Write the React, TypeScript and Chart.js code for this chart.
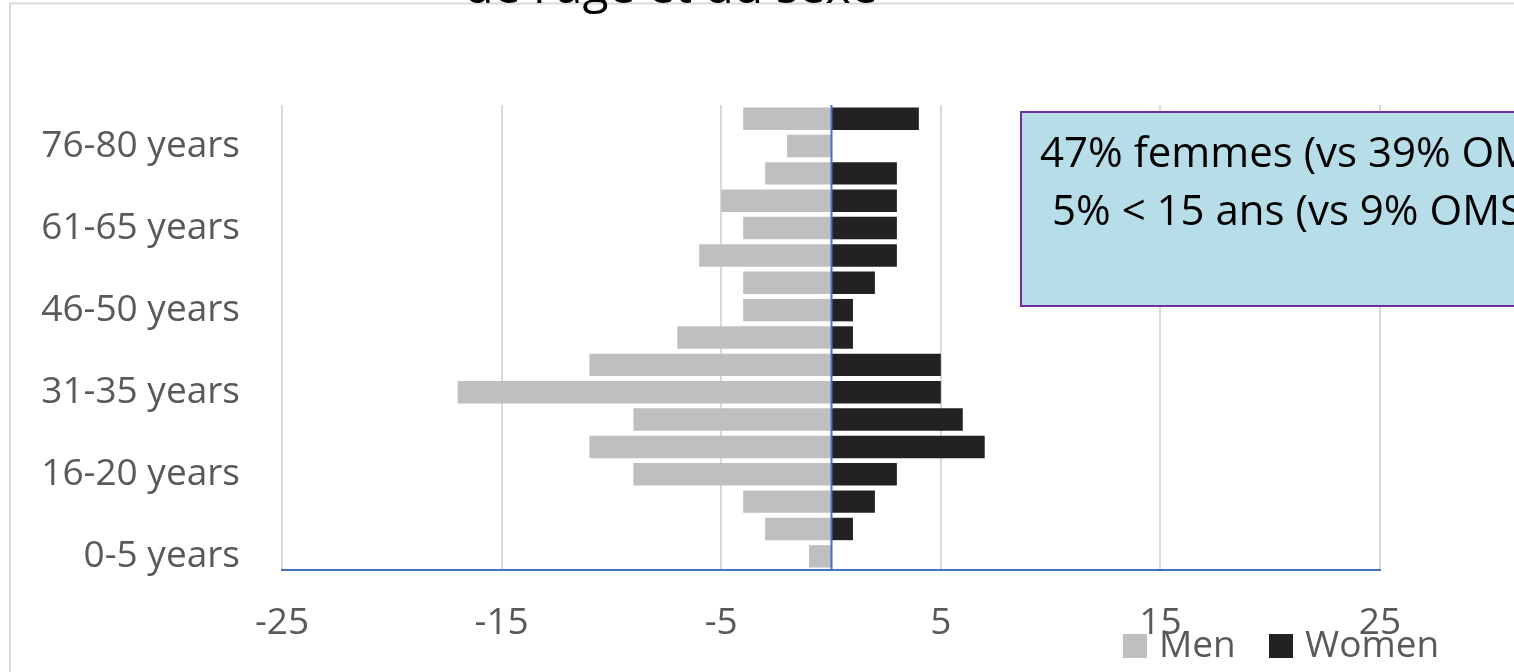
import React, { useEffect, useRef } from 'react';
import { Chart, registerables } from 'chart.js';

Chart.register(...registerables);

const ageGroups = [
  '0-5 years', '6-10 years', '11-15 years', '16-20 years', '21-25 years', '26-30 years',
  '31-35 years', '36-40 years', '41-45 years', '46-50 years', '51-55 years', '56-60 years',
  '61-65 years', '66-70 years', '71-75 years', '76-80 years', '81-85 years',
];
const menValues = [-1, -3, -4, -9, -11, -9, -17, -11, -7, -4, -4, -6, -4, -5, -3, -2, -4];
const womenValues = [0, 1, 2, 3, 7, 6, 5, 5, 1, 1, 2, 3, 3, 3, 3, 0, 4];
const xTicks = [-25, -15, -5, 5, 15, 25];
const seriesLabels = ['Men', 'Women'];
const seriesColors = ['#BFBFBF', '#222222'];
const titleText = "de l'âge et du sexe";
const noteLines = ['47% femmes (vs 39% OMS)', '5% < 15 ans (vs 9% OMS)'];

const FONT = "'Open Sans', sans-serif";

const backgroundPlugin = {
  id: 'bgFrame',
  beforeDraw(chart: any) {
    const { ctx, width, height } = chart;
    ctx.save();
    ctx.fillStyle = '#FFFFFF';
    ctx.fillRect(0, 0, width, height);
    ctx.strokeStyle = '#D9D9D9';
    ctx.lineWidth = 2;
    ctx.beginPath();
    ctx.moveTo(10, height + 10);
    ctx.lineTo(10, 3.5);
    ctx.lineTo(width + 10, 3.5);
    ctx.stroke();
    ctx.restore();
  },
};

const zeroLinePlugin = {
  id: 'zeroLine',
  afterDatasetsDraw(chart: any) {
    const { ctx, chartArea, scales } = chart;
    const x = Math.round(scales.x.getPixelForValue(0)) + 0.5;
    ctx.save();
    ctx.strokeStyle = '#4472C4';
    ctx.lineWidth = 2;
    ctx.beginPath();
    ctx.moveTo(x, chartArea.top);
    ctx.lineTo(x, chartArea.bottom);
    ctx.stroke();
    ctx.restore();
  },
};

const decorPlugin = {
  id: 'decor',
  afterDraw(chart: any) {
    const { ctx, width } = chart;
    ctx.save();
    // title (cut off at top)
    ctx.fillStyle = '#000000';
    ctx.font = `48px ${FONT}`;
    ctx.textAlign = 'center';
    ctx.textBaseline = 'alphabetic';
    ctx.fillText(titleText, 671, 3);

    // note box (extends past the right edge)
    const bx = 1021, by = 112, bh = 194;
    ctx.fillStyle = '#B7DEE8';
    ctx.fillRect(bx, by, width - bx + 20, bh);
    ctx.strokeStyle = '#7030A0';
    ctx.lineWidth = 2;
    ctx.beginPath();
    ctx.moveTo(width + 20, by);
    ctx.lineTo(bx, by);
    ctx.lineTo(bx, by + bh);
    ctx.lineTo(width + 20, by + bh);
    ctx.stroke();
    ctx.fillStyle = '#000000';
    ctx.font = `42px ${FONT}`;
    ctx.textAlign = 'left';
    ctx.fillText(noteLines[0], 1040, 167);
    ctx.fillText(noteLines[1], 1052, 225);

    // legend
    const items = chart.data.datasets;
    const pos = [1123, 1269];
    ctx.font = `37px ${FONT}`;
    items.forEach((ds: any, i: number) => {
      ctx.fillStyle = ds.backgroundColor;
      ctx.fillRect(pos[i], 634, 24, 24);
      ctx.fillStyle = '#595959';
      ctx.fillText(ds.label, pos[i] + 36, 657);
    });
    ctx.restore();
  },
};

export default function App() {
  const ref = useRef<HTMLCanvasElement | null>(null);

  useEffect(() => {
    document.body.style.margin = '0';
    document.body.style.overflow = 'hidden';
    if (!ref.current) return;
    const chart = new Chart(ref.current, {
      type: 'bar',
      data: {
        labels: ageGroups,
        datasets: [
          {
            label: seriesLabels[0],
            data: menValues,
            backgroundColor: seriesColors[0],
            barPercentage: 0.82,
            categoryPercentage: 1,
          },
          {
            label: seriesLabels[1],
            data: womenValues,
            backgroundColor: seriesColors[1],
            barPercentage: 0.82,
            categoryPercentage: 1,
          },
        ],
      },
      options: {
        indexAxis: 'y',
        responsive: false,
        animation: false,
        layout: { padding: { top: 105, right: 134, left: 0, bottom: 0 } },
        plugins: {
          legend: { display: false },
          tooltip: { enabled: false },
          title: { display: false },
        },
        scales: {
          x: {
            type: 'linear',
            stacked: true,
            min: -25,
            max: 25,
            afterBuildTicks: (axis: any) => {
              axis.ticks = xTicks.map((v) => ({ value: v }));
            },
            afterFit: (axis: any) => {
              axis.height = 102;
            },
            grid: { color: '#D9D9D9', lineWidth: 2, drawTicks: false },
            border: { color: '#4472C4', width: 2 },
            ticks: {
              color: '#595959',
              font: { family: FONT, size: 37 },
              padding: 31,
              maxRotation: 0,
              autoSkip: false,
            },
          },
          y: {
            type: 'category',
            stacked: true,
            reverse: true,
            afterFit: (axis: any) => {
              axis.width = 282;
            },
            grid: { display: false, drawTicks: false },
            border: { display: false },
            ticks: {
              color: '#595959',
              font: { family: FONT, size: 37 },
              padding: 42,
              autoSkip: false,
              callback: function (this: any, value: any, index: number) {
                return index % 3 === 0 ? this.getLabelForValue(value) : '';
              },
            },
          },
        },
      },
      plugins: [backgroundPlugin, zeroLinePlugin, decorPlugin],
    });
    return () => chart.destroy();
  }, []);

  return (
    <div style={{ position: 'absolute', left: 0, top: 0, width: 1514, height: 672, overflow: 'hidden' }}>
      <canvas ref={ref} width={1514} height={672} style={{ display: 'block' }} />
    </div>
  );
}
